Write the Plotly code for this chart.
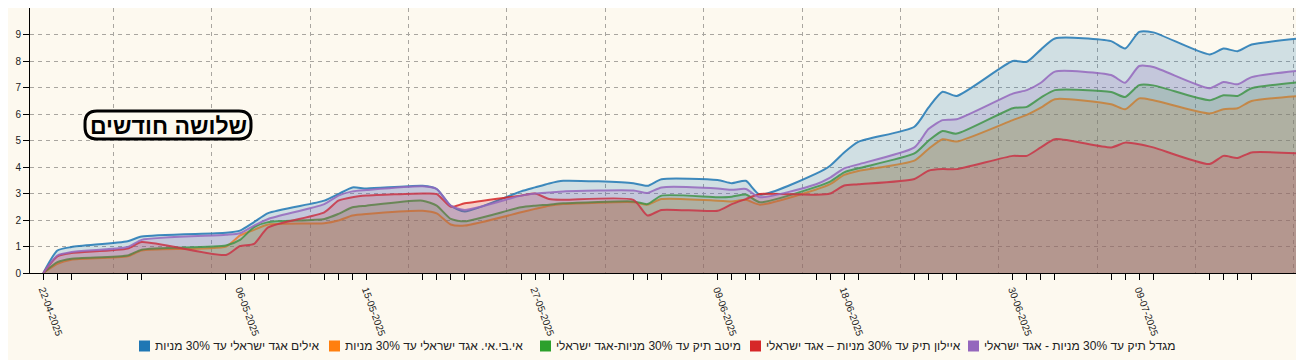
import plotly.graph_objects as go

# ---------------- data ----------------
dates = [
    "2025-04-22", "2025-04-23", "2025-04-24", "2025-04-28", "2025-04-29",
    "2025-05-05", "2025-05-06", "2025-05-07", "2025-05-08",
    "2025-05-12", "2025-05-13", "2025-05-14", "2025-05-15",
    "2025-05-19", "2025-05-20", "2025-05-21", "2025-05-22",
    "2025-05-26", "2025-05-27", "2025-05-28", "2025-05-29",
    "2025-06-03", "2025-06-04", "2025-06-05",
    "2025-06-09", "2025-06-10", "2025-06-11", "2025-06-12",
    "2025-06-16", "2025-06-17", "2025-06-18", "2025-06-19",
    "2025-06-23", "2025-06-24", "2025-06-25", "2025-06-26",
    "2025-06-30", "2025-07-01", "2025-07-02", "2025-07-03",
    "2025-07-07", "2025-07-08", "2025-07-09", "2025-07-10",
    "2025-07-14", "2025-07-15", "2025-07-16", "2025-07-17",
    "2025-07-21",
]

labeled_ticks = ["22-04-2025", "06-05-2025", "15-05-2025", "27-05-2025",
                 "09-06-2025", "18-06-2025", "30-06-2025", "09-07-2025"]

ayalim = [0, 0.85, 0.98, 1.2, 1.38, 1.52, 1.6, 1.92, 2.26,
          2.73, 2.98, 3.23, 3.19, 3.29, 3.17, 2.54, 2.32,
          3.08, 3.23, 3.38, 3.48, 3.39, 3.29, 3.54,
          3.51, 3.39, 3.48, 2.96, 3.75, 4.05, 4.55, 4.95,
          5.52, 6.24, 6.84, 6.68, 8.0, 7.97, 8.43, 8.85,
          8.75, 8.47, 9.1, 9.08, 8.25, 8.47, 8.37, 8.62, 8.88]

ibi = [0, 0.35, 0.5, 0.63, 0.85, 1.0, 1.42, 1.63, 1.83,
       1.88, 1.98, 2.17, 2.23, 2.35, 2.25, 1.83, 1.79,
       2.29, 2.42, 2.54, 2.6, 2.67, 2.58, 2.79,
       2.73, 2.7, 2.76, 2.58, 3.15, 3.35, 3.7, 3.85,
       4.24, 4.68, 5.05, 4.96, 5.77, 5.97, 6.24, 6.56,
       6.37, 6.18, 6.59, 6.52, 6.02, 6.18, 6.22, 6.49, 6.7]

meitav = [0, 0.41, 0.54, 0.66, 0.88, 1.04, 1.25, 1.73, 1.92,
          2.04, 2.23, 2.48, 2.54, 2.73, 2.54, 2.04, 1.95,
          2.48, 2.54, 2.58, 2.63, 2.7, 2.6, 2.92,
          2.86, 2.88, 2.96, 2.67, 3.25, 3.45, 3.8, 3.95,
          4.51, 4.99, 5.36, 5.26, 6.22, 6.27, 6.62, 6.9,
          6.83, 6.64, 7.09, 7.08, 6.52, 6.71, 6.68, 6.97, 7.23]

ayalon = [0, 0.63, 0.75, 0.92, 1.17, 0.68, 1.02, 1.1, 1.72,
          2.29, 2.73, 2.86, 2.92, 3.0, 2.98, 2.5, 2.63,
          2.92, 3.0, 2.79, 2.76, 2.76, 2.17, 2.38,
          2.35, 2.6, 2.79, 2.98, 2.95, 3.0, 3.3, 3.35,
          3.55, 3.86, 3.92, 3.92, 4.42, 4.42, 4.74, 5.05,
          4.74, 4.92, 4.86, 4.74, 4.11, 4.42, 4.34, 4.55, 4.49]

migdal = [0, 0.66, 0.79, 0.98, 1.25, 1.44, 1.5, 1.79, 2.04,
          2.6, 2.92, 3.08, 3.13, 3.27, 3.17, 2.54, 2.38,
          2.92, 3.0, 3.04, 3.08, 3.11, 3.02, 3.23,
          3.19, 3.14, 3.17, 2.86, 3.35, 3.6, 3.95, 4.1,
          4.74, 5.43, 5.77, 5.8, 6.77, 6.9, 7.18, 7.6,
          7.47, 7.18, 7.81, 7.77, 6.97, 7.21, 7.12, 7.39, 7.67]

series_names = [
    "אילים אגד ישראלי עד 30% מניות",
    "אי.בי.אי. אגד ישראלי עד 30% מניות",
    "מיטב תיק עד 30% מניות-אגד ישראלי",
    "איילון תיק עד 30% מניות – אגד ישראלי",
    "מגדל תיק עד 30% מניות - אגד ישראלי",
]
series_values = [ayalim, ibi, meitav, ayalon, migdal]
series_colors = ["#1f77b4", "#ff7f0e", "#2ca02c", "#d62728", "#9467bd"]

title_text = "שלושה חודשים"
y_ticks = [0, 1, 2, 3, 4, 5, 6, 7, 8, 9]

# ---------------- style / layout ----------------
# The page body has an 8px margin, so window coords = figure coords + 8.
OFF = 8
W, H = 1304, 360
PLOT_L, PLOT_R, PLOT_T, PLOT_B = 30, 1304, 8, 273   # desired window pixels
ML = PLOT_L - OFF
MR = (W + OFF) - PLOT_R
MT = PLOT_T - OFF
MB = (H + OFF) - PLOT_B
BG = "#fdf9ef"
GRID = "#a9a6a0"
FONT = "Arial, Liberation Sans, DejaVu Sans, sans-serif"

PW = PLOT_R - PLOT_L
PH = PLOT_B - PLOT_T


def px(xp):
    return (xp - PLOT_L) / PW


def py(yp):
    return (PLOT_B - yp) / PH


def rgba(hex_color, a):
    h = hex_color.lstrip("#")
    r, g, b = int(h[0:2], 16), int(h[2:4], 16), int(h[4:6], 16)
    return f"rgba({r},{g},{b},{a})"


fig = go.Figure()
for name, vals, col in zip(series_names, series_values, series_colors):
    fig.add_trace(go.Scatter(
        x=dates, y=vals, name=name, mode="lines",
        line=dict(color=rgba(col, 0.85), width=2, shape="spline", smoothing=0.6),
        fill="tozeroy", fillcolor=rgba(col, 0.2),
        showlegend=False, hoverinfo="x+y+name",
    ))


def fmt(d):
    y, m, dd = d.split("-")
    return f"{dd}-{m}-{y}"


ticktext = [fmt(d) if fmt(d) in labeled_ticks else "" for d in dates]

fig.update_layout(
    width=W, height=H,
    margin=dict(l=ML, r=MR, t=MT, b=MB),
    paper_bgcolor=BG, plot_bgcolor=BG,
    template="none",
    font=dict(family=FONT, size=10, color="#222"),
    showlegend=False,
    xaxis=dict(
        type="date",
        range=["2025-04-21 01:16", "2025-07-20 17:31"],
        tickmode="array", tickvals=dates, ticktext=ticktext,
        tickangle=70, ticks="outside", ticklen=6, tickcolor="#000", tickwidth=1,
        tickfont=dict(size=10, color="#222", family=FONT),
        showline=True, linecolor="#000", linewidth=1,
        showgrid=False, zeroline=False, automargin=False,
        minor=dict(tickmode="linear", tick0="2025-04-27", dtick=7 * 86400000,
                   showgrid=True, gridcolor=GRID, griddash="4px,4px",
                   gridwidth=1, ticks=""),
    ),
    yaxis=dict(
        range=[0, 10], tickmode="array", tickvals=y_ticks,
        ticks="outside", ticklen=6, tickcolor="#000", tickwidth=1,
        tickfont=dict(size=10, color="#222", family=FONT),
        showline=True, linecolor="#000", linewidth=1,
        showgrid=True, gridcolor=GRID, griddash="4px,4px", gridwidth=1,
        zeroline=False, automargin=False,
    ),
)

# ---- title box with rounded corners ----
bx0, bx1, by0, by1, rad = 85, 251, 111, 139, 12
rx, ry = rad / PW, rad / PH
x0, x1, y0, y1 = px(bx0), px(bx1), py(by1), py(by0)
path = (f"M {x0+rx} {y0} L {x1-rx} {y0} Q {x1} {y0} {x1} {y0+ry} "
        f"L {x1} {y1-ry} Q {x1} {y1} {x1-rx} {y1} L {x0+rx} {y1} "
        f"Q {x0} {y1} {x0} {y1-ry} L {x0} {y0+ry} Q {x0} {y0} {x0+rx} {y0} Z")
shapes = [dict(type="path", xref="paper", yref="paper", path=path,
               line=dict(color="#000", width=3), fillcolor=BG, layer="above")]
annotations = [dict(xref="paper", yref="paper", x=px((bx0 + bx1) / 2), y=py(125.5),
                    text=f"<b>{title_text}</b>", showarrow=False,
                    font=dict(family=FONT, size=23, color="#000"),
                    xanchor="center", yanchor="middle")]

# ---- legend drawn below the plot (square left of RTL text) ----
legend_sq_left = [139, 329, 540, 750, 968]
legend_cy = 346
for name, col, sx in zip(series_names, series_colors, legend_sq_left):
    shapes.append(dict(type="rect", xref="paper", yref="paper",
                       x0=px(sx), x1=px(sx + 11), y0=py(legend_cy + 5.5), y1=py(legend_cy - 5.5),
                       fillcolor=col, line=dict(width=0), layer="above"))
    annotations.append(dict(xref="paper", yref="paper", x=px(sx + 14), y=py(legend_cy),
                            text=name, showarrow=False, xanchor="left", yanchor="middle",
                            font=dict(family=FONT, size=12, color="#222")))

fig.update_layout(shapes=shapes, annotations=annotations)

fig.write_html("out.html")
